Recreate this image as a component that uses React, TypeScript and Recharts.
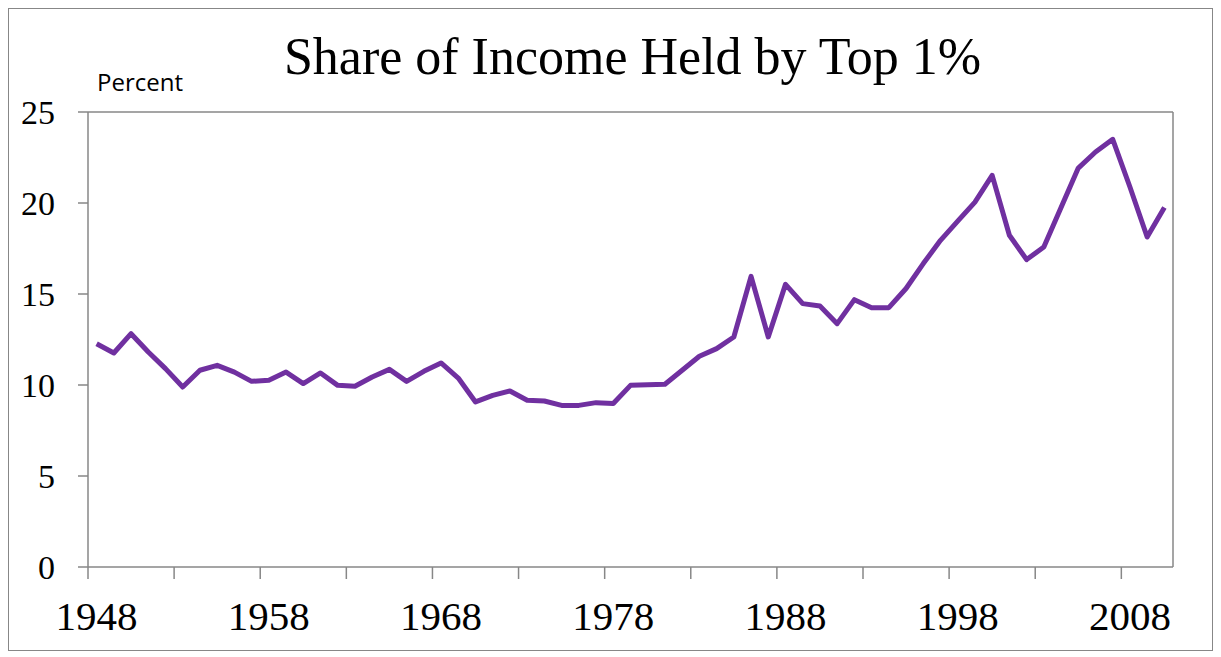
import React from 'react';
import { LineChart, Line, XAxis, YAxis, ReferenceLine } from 'recharts';

const YEARS = [
  1948, 1949, 1950, 1951, 1952, 1953, 1954, 1955, 1956, 1957,
  1958, 1959, 1960, 1961, 1962, 1963, 1964, 1965, 1966, 1967,
  1968, 1969, 1970, 1971, 1972, 1973, 1974, 1975, 1976, 1977,
  1978, 1979, 1980, 1981, 1982, 1983, 1984, 1985, 1986, 1987,
  1988, 1989, 1990, 1991, 1992, 1993, 1994, 1995, 1996, 1997,
  1998, 1999, 2000, 2001, 2002, 2003, 2004, 2005, 2006, 2007,
  2008, 2009, 2010,
];

const SHARE = [
  12.27, 11.76, 12.82, 11.81, 10.9, 9.89, 10.81, 11.08, 10.71, 10.2,
  10.26, 10.71, 10.08, 10.66, 9.98, 9.93, 10.44, 10.86, 10.2, 10.75,
  11.21, 10.38, 9.07, 9.43, 9.67, 9.16, 9.12, 8.88, 8.88, 9.03,
  8.98, 9.98, 10.02, 10.04, 10.81, 11.58, 12.0, 12.64, 15.97, 12.64,
  15.53, 14.47, 14.34, 13.37, 14.69, 14.25, 14.25, 15.3, 16.67, 17.95,
  19.0, 20.05, 21.52, 18.23, 16.89, 17.58, 19.75, 21.92, 22.8, 23.5,
  20.88, 18.13, 19.75,
];

const TICK_MARK_YEARS = [
  1947.5, 1952.5, 1957.5, 1962.5, 1967.5, 1972.5, 1977.5,
  1982.5, 1987.5, 1992.5, 1997.5, 2002.5, 2007.5,
];
const LABEL_YEARS = [1948, 1958, 1968, 1978, 1988, 1998, 2008];
const Y_TICKS = [0, 5, 10, 15, 20, 25];

const TITLE = 'Share of Income Held by Top 1%';
const UNIT_LABEL = 'Percent';

const data = YEARS.map((year, i) => ({ year, share: SHARE[i] }));
const xTicks = [...TICK_MARK_YEARS, ...LABEL_YEARS].sort((a, b) => a - b);

const GRAY = '#878787';
const SERIF = '"Liberation Serif", "Times New Roman", serif';
const X_TICK_SIZE = 12;
const X_TICK_MARGIN = 22;

const XTick = (props: any) => {
  const { x, y, payload } = props;
  const v = payload.value as number;
  if (Number.isInteger(v)) {
    return (
      <text x={x} y={y} dy="0.71em" textAnchor="middle" fill="#000" fontSize={41} fontFamily={SERIF}>
        {String(v)}
      </text>
    );
  }
  return (
    <line
      x1={x}
      x2={x}
      y1={y - X_TICK_SIZE - X_TICK_MARGIN}
      y2={y - X_TICK_MARGIN}
      stroke={GRAY}
      strokeWidth={1.5}
    />
  );
};

export default function App() {
  return (
    <div
      style={{
        position: 'relative',
        width: 1205,
        height: 643,
        border: `1px solid ${GRAY}`,
        boxSizing: 'border-box',
        background: '#fff',
      }}
    >
      <LineChart
        width={1203}
        height={641}
        data={data}
        margin={{ top: 103, right: 39, left: 0, bottom: 13 }}
      >
        <XAxis
          dataKey="year"
          type="number"
          domain={[1947.5, 2010.5]}
          ticks={xTicks}
          interval={0}
          tickLine={false}
          tickSize={X_TICK_SIZE}
          tickMargin={X_TICK_MARGIN}
          axisLine={{ stroke: GRAY, strokeWidth: 1.5 }}
          tick={<XTick />}
          height={70}
          allowDataOverflow
        />
        <YAxis
          type="number"
          domain={[0, 25]}
          ticks={Y_TICKS}
          interval={0}
          width={79}
          tickSize={10}
          tickMargin={23}
          axisLine={{ stroke: GRAY, strokeWidth: 1.5 }}
          tickLine={{ stroke: GRAY, strokeWidth: 1.5 }}
          tick={{ fill: '#000', fontSize: 34, fontFamily: SERIF }}
        />
        <ReferenceLine y={25} stroke={GRAY} strokeWidth={1.5} />
        <ReferenceLine x={2010.5} stroke={GRAY} strokeWidth={1.5} />
        <Line
          type="linear"
          dataKey="share"
          stroke="#7030A0"
          strokeWidth={5}
          strokeLinejoin="round"
          dot={false}
          activeDot={false}
          isAnimationActive={false}
        />
      </LineChart>
      <svg
        width={1203}
        height={641}
        style={{ position: 'absolute', left: 0, top: 0, pointerEvents: 'none' }}
      >
        <text x={623.5} y={65} textAnchor="middle" fill="#000" fontSize={52} fontFamily={SERIF}>
          {TITLE}
        </text>
        <text x={88} y={82} fill="#000" fontSize={24} fontFamily='"Open Sans", sans-serif'>
          {UNIT_LABEL}
        </text>
      </svg>
    </div>
  );
}
